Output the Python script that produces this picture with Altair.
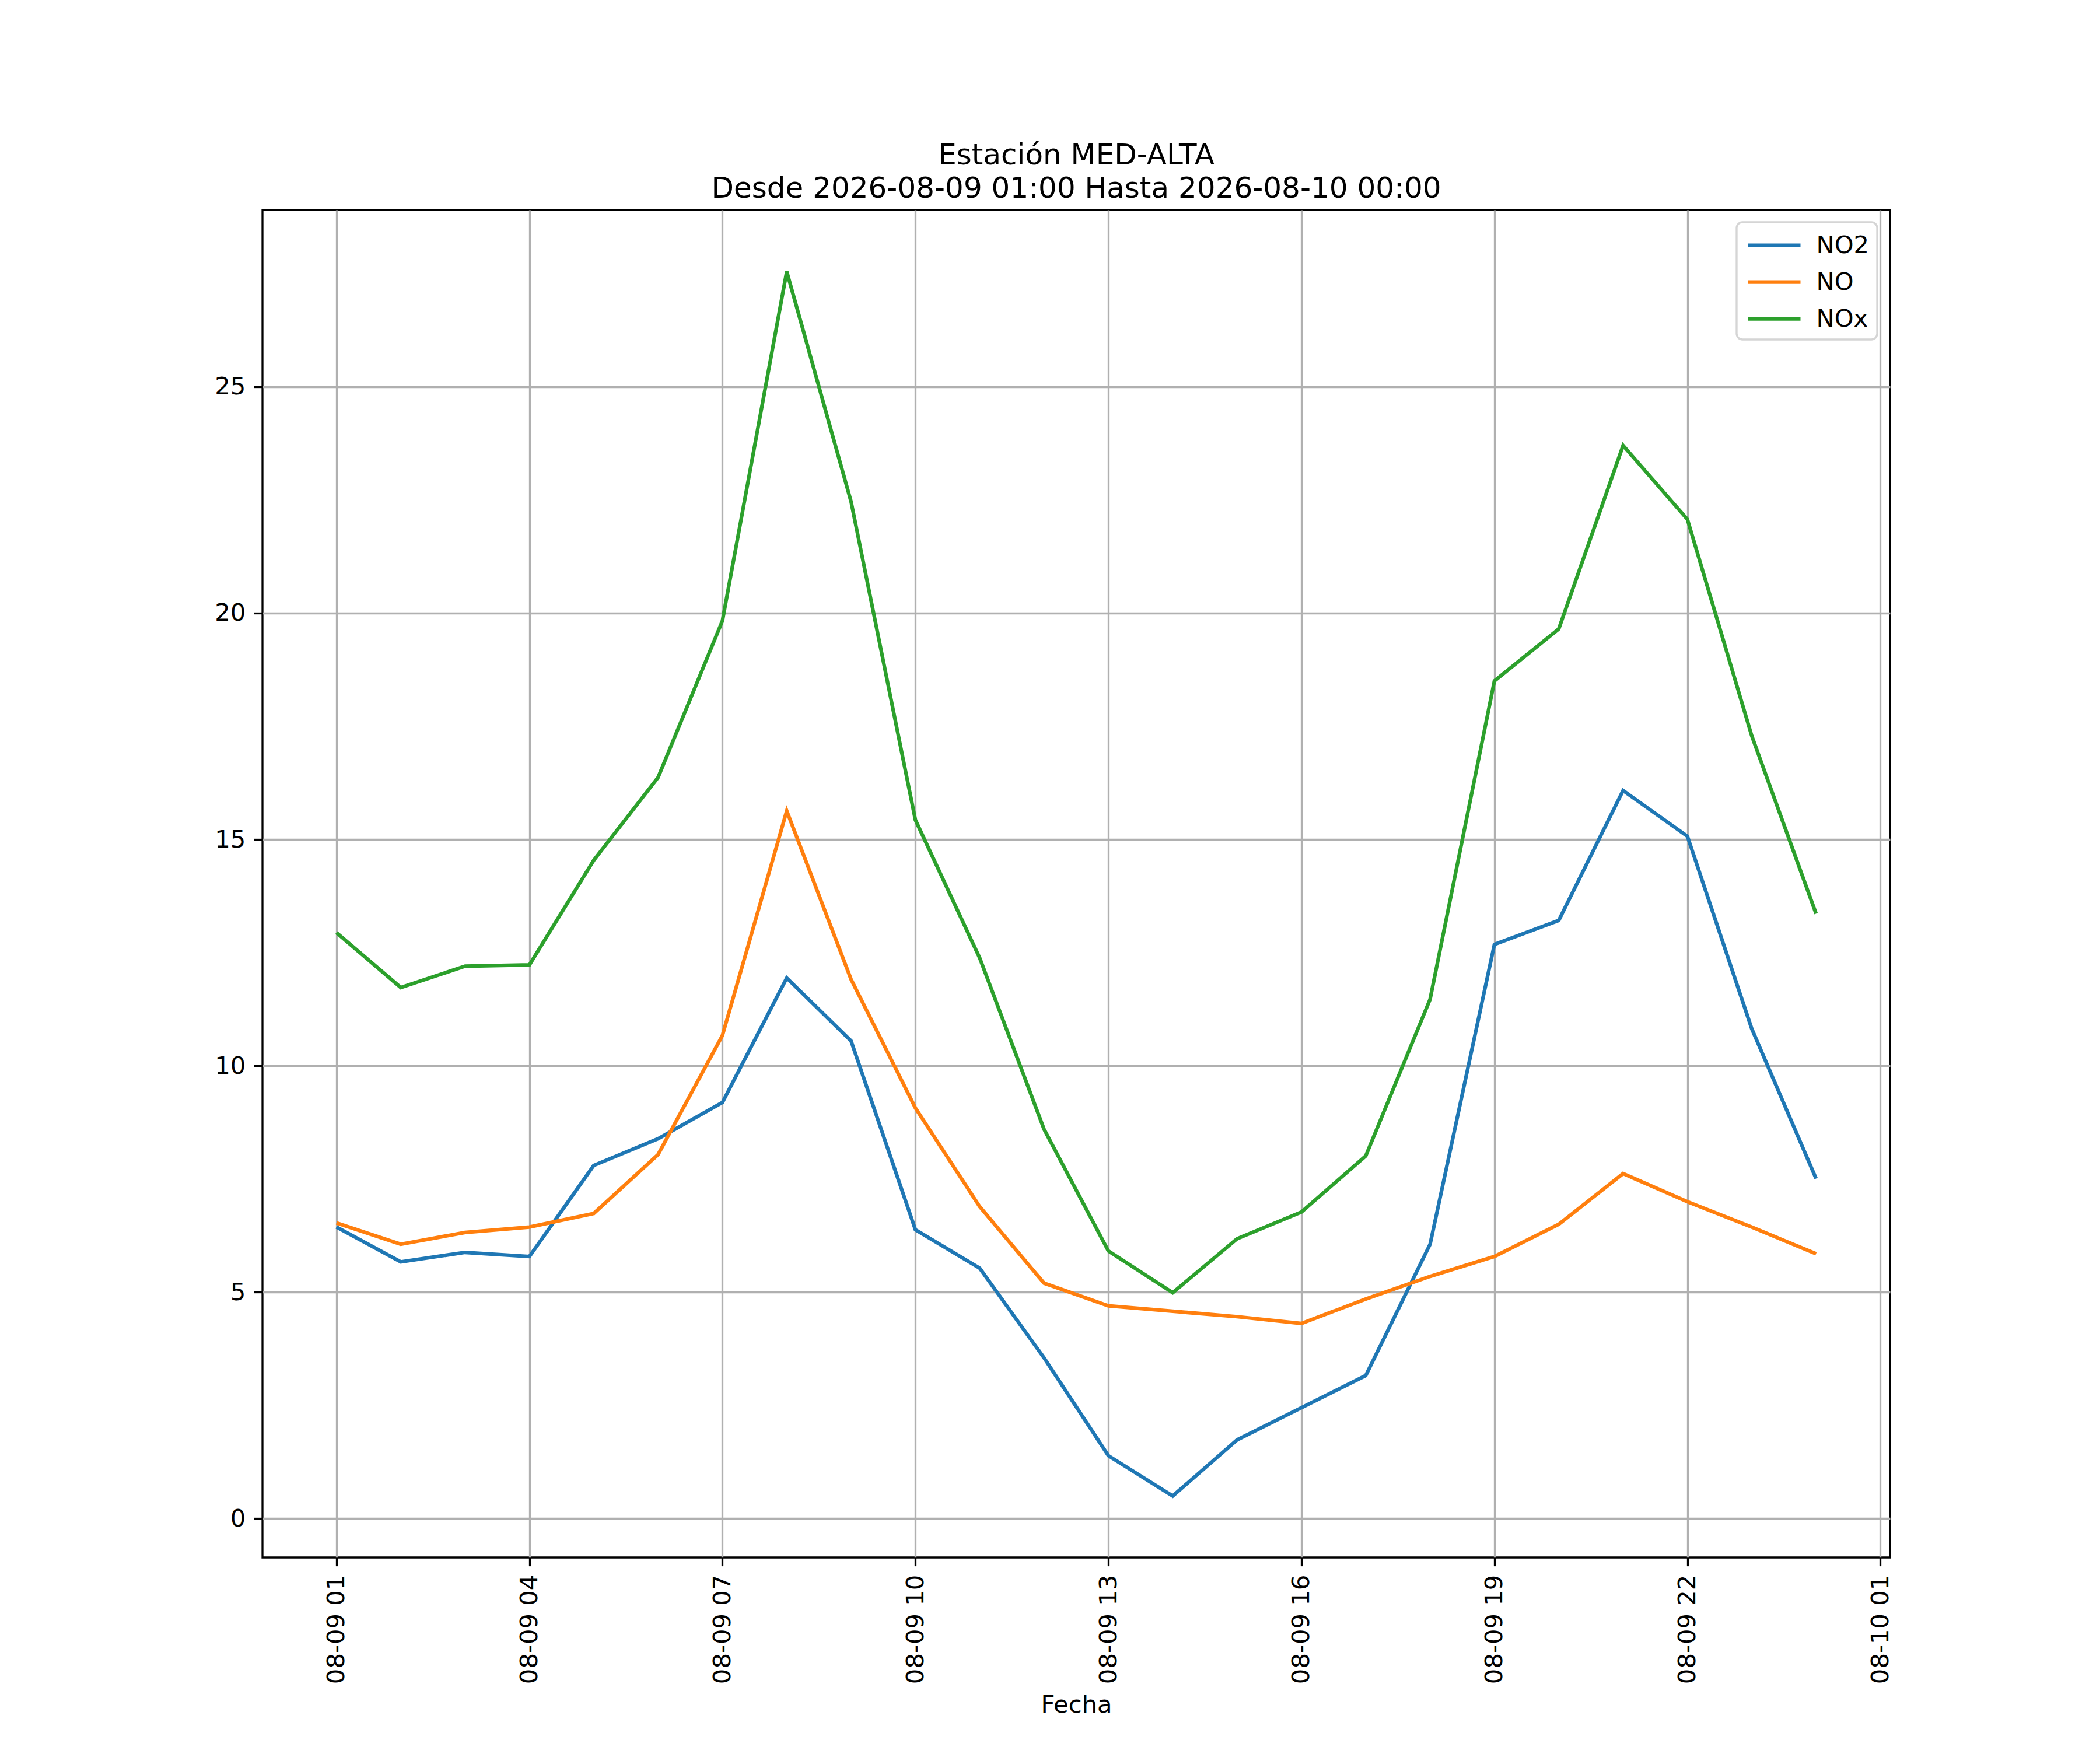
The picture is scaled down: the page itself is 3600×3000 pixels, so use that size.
import altair as alt
import pandas as pd

hours = ["2026-08-09T01:00:00", "2026-08-09T02:00:00", "2026-08-09T03:00:00", "2026-08-09T04:00:00",
         "2026-08-09T05:00:00", "2026-08-09T06:00:00", "2026-08-09T07:00:00", "2026-08-09T08:00:00",
         "2026-08-09T09:00:00", "2026-08-09T10:00:00", "2026-08-09T11:00:00", "2026-08-09T12:00:00",
         "2026-08-09T13:00:00", "2026-08-09T14:00:00", "2026-08-09T15:00:00", "2026-08-09T16:00:00",
         "2026-08-09T17:00:00", "2026-08-09T18:00:00", "2026-08-09T19:00:00", "2026-08-09T20:00:00",
         "2026-08-09T21:00:00", "2026-08-09T22:00:00", "2026-08-09T23:00:00", "2026-08-10T00:00:00"]

no2 = [6.44, 5.67, 5.88, 5.79, 7.80, 8.39, 9.19, 11.94, 10.55, 6.38, 5.53, 3.55,
       1.39, 0.50, 1.74, 2.45, 3.16, 6.06, 12.68, 13.21, 16.08, 15.07, 10.82, 7.51]
no = [6.53, 6.06, 6.32, 6.44, 6.74, 8.04, 10.67, 15.63, 11.91, 9.07, 6.89, 5.20,
      4.70, 4.58, 4.46, 4.31, 4.85, 5.35, 5.79, 6.50, 7.62, 7.00, 6.44, 5.85]
nox = [12.94, 11.73, 12.20, 12.23, 14.54, 16.37, 19.83, 27.54, 22.46, 15.43, 12.38, 8.60,
       5.91, 4.99, 6.18, 6.77, 8.01, 11.47, 18.50, 19.65, 23.70, 22.07, 17.29, 13.36]

series = ["NO2", "NO", "NOx"]
colors = ["#1f77b4", "#ff7f0e", "#2ca02c"]

title_lines = ["Estación MED-ALTA", "Desde 2026-08-09 01:00 Hasta 2026-08-10 00:00"]
x_title = "Fecha"

rows = []
for name, vals in zip(series, [no2, no, nox]):
    for h, v in zip(hours, vals):
        rows.append({"Fecha": h, "valor": v, "serie": name})
df = pd.DataFrame(rows)

FONT = "DejaVu Sans"
FS = 41.7

tick_vals = [alt.DateTime(year=2026, month=8, date=9, hours=h) for h in [1, 4, 7, 10, 13, 16, 19, 22]] + \
            [alt.DateTime(year=2026, month=8, date=10, hours=1)]

x_domain = [alt.DateTime(year=2026, month=8, date=8, hours=23, minutes=51),
            alt.DateTime(year=2026, month=8, date=10, hours=1, minutes=9)]

chart = alt.Chart(df).mark_line(strokeWidth=6.25).encode(
    x=alt.X("Fecha:T",
            scale=alt.Scale(domain=x_domain, nice=False),
            axis=alt.Axis(values=tick_vals, format="%m-%d %H", labelAngle=270,
                          title=x_title, grid=True, gridColor="#b0b0b0", gridWidth=3.3,
                          tickSize=14.6, tickWidth=3.3, tickColor="black",
                          labelPadding=14.6, labelFontSize=FS, labelFont=FONT, labelColor="black",
                          labelLimit=600,
                          titleFont=FONT, titleFontSize=FS, titleFontWeight="normal",
                          titleColor="black", titlePadding=32, domain=False,
                          labelOverlap=False, labelBound=False, labelFlush=False)),
    y=alt.Y("valor:Q",
            scale=alt.Scale(domain=[-0.857, 28.9], nice=False, zero=False),
            axis=alt.Axis(values=[0, 5, 10, 15, 20, 25], title=None, grid=True,
                          gridColor="#b0b0b0", gridWidth=3.3,
                          tickSize=14.6, tickWidth=3.3, tickColor="black",
                          labelPadding=14.6, labelFontSize=FS, labelFont=FONT, labelColor="black",
                          domain=False, labelOverlap=False, labelFlush=False)),
    color=alt.Color("serie:N",
                    scale=alt.Scale(domain=series, range=colors),
                    legend=alt.Legend(title=None, orient="none", legendX=2527, legendY=21,
                                      symbolType="M-2,0H2", symbolSize=2025, symbolStrokeWidth=6.25,
                                      symbolOffset=25,
                                      labelFontSize=FS, labelFont=FONT, labelColor="black",
                                      labelOffset=46, rowPadding=15, padding=13.5,
                                      fillColor="white", strokeColor="#d5d5d5",
                                      cornerRadius=10, labelLimit=400)),
).properties(
    width=2790,
    height=2310,
    background="white",
    title=alt.Title(title_lines, fontSize=50, font=FONT, fontWeight="normal", color="black",
                    anchor="middle", offset=11, lineHeight=57),
    autosize=alt.AutoSizeParams(type="none"),
    padding={"left": 442, "top": 352, "right": 350, "bottom": 320},
).configure_view(
    stroke="black", strokeWidth=3.3
).configure_legend(
    strokeWidth=3.3
)

chart.save("out.html", embed_options={"renderer": "svg", "actions": False})
